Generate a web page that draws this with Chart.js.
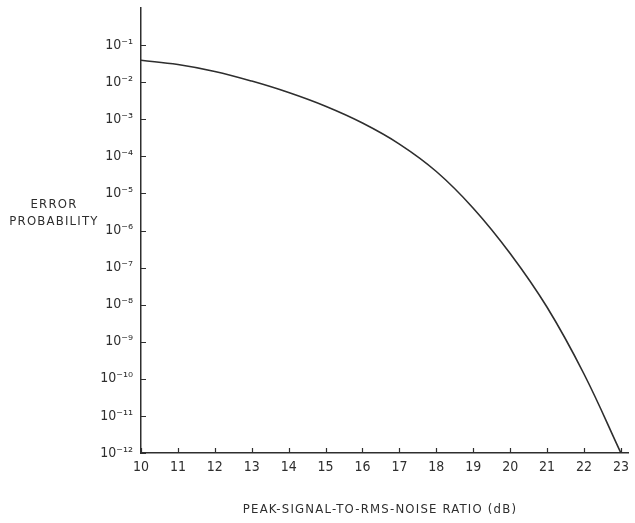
<!DOCTYPE html>
<html>
<head>
<meta charset="utf-8">
<script src="https://cdn.jsdelivr.net/npm/chart.js@4/dist/chart.umd.min.js"></script>
<style>
  html, body { margin: 0; padding: 0; background: #fff; }
  #wrap { width: 635px; height: 523px; position: relative; }
</style>
</head>
<body>
<div id="wrap"><canvas id="c" width="635" height="523"></canvas></div>
<script>
// Data
const snrDb = [10, 11, 12, 13, 14, 15, 16, 17, 18, 19, 20, 21, 22, 23];
const errorProb = [3.9e-2, 3.0e-2, 1.95e-2, 1.07e-2, 5.25e-3, 2.24e-3, 7.9e-4, 2.14e-4, 3.9e-5, 4.0e-6, 2.4e-7, 8.5e-9, 1.35e-10, 1.0e-12];
const xTicks = [10, 11, 12, 13, 14, 15, 16, 17, 18, 19, 20, 21, 22, 23];
const yTickExponents = [-1, -2, -3, -4, -5, -6, -7, -8, -9, -10, -11, -12];
const yTickLabels = ['10⁻¹', '10⁻²', '10⁻³', '10⁻⁴', '10⁻⁵', '10⁻⁶', '10⁻⁷', '10⁻⁸', '10⁻⁹', '10⁻¹⁰', '10⁻¹¹', '10⁻¹²'];
const yTitleLines = ['ERROR', 'PROBABILITY'];
const xTitle = 'PEAK-SIGNAL-TO-RMS-NOISE RATIO (dB)';

const INK = '#2e2e2e';
const FONT = "'Liberation Sans Narrow', 'DejaVu Sans Condensed', 'Liberation Sans', sans-serif";

const points = snrDb.map((x, i) => ({ x: x, y: errorProb[i] }));

const decor = {
  id: 'decor',
  afterDraw(chart) {
    const ctx = chart.ctx;
    const xs = chart.scales.x, ys = chart.scales.y;
    const area = chart.chartArea;
    ctx.save();
    ctx.strokeStyle = INK;
    ctx.lineWidth = 1.2;
    ctx.beginPath();
    xTicks.forEach(v => {
      const px = Math.round(xs.getPixelForValue(v)) + 0.5;
      ctx.moveTo(px, area.bottom);
      ctx.lineTo(px, area.bottom - 5);
    });
    yTickExponents.forEach(e => {
      const py = Math.round(ys.getPixelForValue(Math.pow(10, e))) + 0.5;
      ctx.moveTo(area.left, py);
      ctx.lineTo(area.left + 5, py);
    });
    ctx.stroke();
    ctx.fillStyle = INK;
    ctx.textAlign = 'center';
    ctx.textBaseline = 'middle';
    ctx.font = "13px " + FONT;
    try { ctx.letterSpacing = '1.2px'; } catch (e) {}
    ctx.fillText(yTitleLines[0], 54, 205);
    ctx.fillText(yTitleLines[1], 54, 222);
    ctx.fillText(xTitle, 380, 510);
    ctx.restore();
  }
};

new Chart(document.getElementById('c'), {
  type: 'scatter',
  data: {
    datasets: [{
      data: points,
      showLine: true,
      borderColor: INK,
      borderWidth: 1.6,
      pointRadius: 0,
      tension: 0.4,
      fill: false
    }]
  },
  options: {
    responsive: false,
    animation: false,
    devicePixelRatio: 1,
    layout: { padding: { left: 0, top: 8, right: 5, bottom: 0 } },
    plugins: { legend: { display: false }, tooltip: { enabled: false } },
    scales: {
      x: {
        type: 'linear',
        min: 10,
        max: 23.2,
        afterBuildTicks(scale) { scale.ticks = xTicks.map(v => ({ value: v })); },
        afterFit(scale) { scale.height = 70; },
        grid: { display: true, drawOnChartArea: false, drawTicks: false },
        border: { display: true, color: INK, width: 1.5 },
        ticks: {
          color: INK,
          padding: 6,
          maxRotation: 0,
          autoSkip: false,
          font: { family: FONT, size: 14 },
          callback: v => String(v)
        }
      },
      y: {
        type: 'logarithmic',
        min: 1e-12,
        max: 1,
        afterBuildTicks(scale) { scale.ticks = yTickExponents.map(e => ({ value: Math.pow(10, e) })); },
        afterFit(scale) { scale.width = 141; scale.paddingTop = 0; scale.paddingBottom = 0; },
        grid: { display: true, drawOnChartArea: false, drawTicks: false },
        border: { display: true, color: INK, width: 1.5 },
        ticks: {
          color: INK,
          padding: 8,
          autoSkip: false,
          font: { family: FONT, size: 14 },
          callback: function (v) {
            const e = Math.round(Math.log10(v));
            const i = yTickExponents.indexOf(e);
            return i >= 0 ? yTickLabels[i] : '';
          }
        }
      }
    }
  },
  plugins: [decor]
});
</script>
</body>
</html>
